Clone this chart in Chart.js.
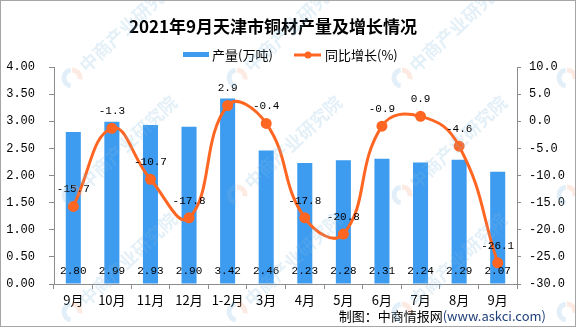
<!DOCTYPE html>
<html>
<head>
<meta charset="utf-8">
<script src="https://cdn.jsdelivr.net/npm/chart.js@4.4.1/dist/chart.umd.min.js"></script>
<style>
  html, body { margin: 0; padding: 0; background: #ffffff; }
  #wrap { width: 576px; height: 327px; position: relative; }
  canvas { display: block; }
</style>
</head>
<body>
<div id="wrap"><canvas id="c" width="576" height="327"></canvas></div>
<script>
// 2021年9月天津市铜材产量及增长情况
const categories = ['9月', '10月', '11月', '12月', '1-2月', '3月', '4月', '5月', '6月', '7月', '8月', '9月'];
const output = [2.80, 2.99, 2.93, 2.90, 3.42, 2.46, 2.23, 2.28, 2.31, 2.24, 2.29, 2.07];   // 产量(万吨)
const growth = [-15.7, -1.3, -10.7, -17.8, 2.9, -0.4, -17.8, -20.8, -0.9, 0.9, -4.6, -26.1]; // 同比增长(%)
const titleText = '2021年9月天津市铜材产量及增长情况';
const outputLabel = '产量(万吨)';
const growthLabel = '同比增长(%)';
const sourceText = '制图：中商情报网';
const sourceUrl = '(www.askci.com)';
const watermarkText = '中商产业研究院';

const BAR_COLOR = '#3D9BF0';
const LINE_COLOR = '#FF6622';
const AXIS_COLOR = '#8C8C8C';
const MONO = '"Liberation Mono", "DejaVu Sans Mono", monospace';
const CJK = '"Noto Sans CJK SC", "Noto Sans", sans-serif';

// Title, legend, value labels, source line, watermark and frame
const decorations = {
  id: 'decorations',
  afterDatasetsDraw(chart) {
    const ctx = chart.ctx;
    const yL = chart.scales.y;
    ctx.save();
    ctx.fillStyle = '#000';
    ctx.textAlign = 'center';
    ctx.textBaseline = 'middle';
    // bar values near the base of each bar
    ctx.font = '11px ' + MONO;
    const barMeta = chart.getDatasetMeta(0);
    barMeta.data.forEach((el, i) => {
      ctx.fillText(output[i].toFixed(2), el.x, yL.getPixelForValue(0) - 13);
    });
    // growth values above each point
    const lineMeta = chart.getDatasetMeta(1);
    lineMeta.data.forEach((el, i) => {
      ctx.fillText(growth[i].toFixed(1), el.x, el.y - 17);
    });
    ctx.restore();
  },
  afterDraw(chart) {
    const ctx = chart.ctx;
    ctx.save();
    // title
    ctx.fillStyle = '#000';
    ctx.textAlign = 'center';
    ctx.textBaseline = 'middle';
    ctx.font = 'bold 17px ' + CJK;
    ctx.fillText(titleText, 273, 27);

    // legend
    ctx.textAlign = 'left';
    ctx.font = '13px ' + CJK;
    ctx.fillStyle = BAR_COLOR;
    ctx.fillRect(183, 52, 26, 5);
    ctx.fillStyle = '#000';
    ctx.fillText(outputLabel, 212, 55);
    ctx.strokeStyle = LINE_COLOR;
    ctx.lineWidth = 3;
    ctx.beginPath();
    ctx.moveTo(294, 55);
    ctx.lineTo(321, 55);
    ctx.stroke();
    ctx.fillStyle = LINE_COLOR;
    ctx.beginPath();
    ctx.arc(308, 55, 3.5, 0, Math.PI * 2);
    ctx.fill();
    ctx.fillStyle = '#000';
    ctx.fillText(growthLabel, 325, 55);

    // source line
    ctx.textAlign = 'right';
    ctx.font = '13px ' + CJK;
    ctx.fillStyle = '#1F3F7A';
    const urlW = ctx.measureText(sourceUrl).width;
    ctx.fillText(sourceUrl, 546, 316);
    ctx.fillStyle = '#000';
    ctx.fillText(sourceText, 546 - urlW, 316);

    // watermark
    const marks = [];
    [72, 237, 402, 567].forEach(x => [78, 195, 312].forEach(y => marks.push([x, y])));
    marks.forEach(([x, y]) => {
      ctx.save();
      ctx.translate(x, y);
      ctx.globalAlpha = 0.22;
      ctx.lineWidth = 5;
      ctx.strokeStyle = '#7FB6E0';
      ctx.beginPath();
      ctx.arc(0, 0, 8, Math.PI * 0.55, Math.PI * 1.45);
      ctx.stroke();
      ctx.strokeStyle = '#F0A080';
      ctx.beginPath();
      ctx.arc(0, 0, 8, Math.PI * 1.5, Math.PI * 0.05);
      ctx.stroke();
      ctx.rotate(-Math.PI * 0.24);
      ctx.fillStyle = '#86B9E0';
      ctx.font = 'bold 18px ' + CJK;
      ctx.textAlign = 'left';
      ctx.textBaseline = 'middle';
      ctx.fillText(watermarkText, 14, 0);
      ctx.restore();
    });

    // frame
    ctx.strokeStyle = '#A6A6A6';
    ctx.lineWidth = 1;
    ctx.strokeRect(0.5, 0.5, 575, 326);
    ctx.restore();
  }
};

new Chart(document.getElementById('c'), {
  data: {
    labels: categories,
    datasets: [
      {
        type: 'bar',
        label: outputLabel,
        data: output,
        yAxisID: 'y',
        backgroundColor: BAR_COLOR,
        barPercentage: 0.39,
        categoryPercentage: 1,
        order: 2
      },
      {
        type: 'line',
        label: growthLabel,
        data: growth,
        yAxisID: 'y1',
        borderColor: LINE_COLOR,
        backgroundColor: LINE_COLOR,
        borderWidth: 3,
        pointRadius: 4,
        pointBackgroundColor: LINE_COLOR,
        pointBorderColor: LINE_COLOR,
        tension: 0.45,
        order: 1
      }
    ]
  },
  options: {
    responsive: false,
    animation: false,
    devicePixelRatio: 1,
    layout: { padding: { top: 67, left: 0, right: 0, bottom: 0 } },
    plugins: {
      legend: { display: false },
      title: { display: false },
      tooltip: { enabled: false }
    },
    scales: {
      x: {
        grid: { drawOnChartArea: false, color: AXIS_COLOR, tickLength: 5, offset: true },
        border: { color: AXIS_COLOR, width: 1 },
        ticks: { color: '#000', font: { family: CJK, size: 13 }, padding: 3, maxRotation: 0, autoSkip: false },
        afterFit(scale) { scale.height = 43; }
      },
      y: {
        position: 'left',
        min: 0,
        max: 4,
        grid: { drawOnChartArea: false, color: AXIS_COLOR, tickLength: 5 },
        border: { color: AXIS_COLOR, width: 1 },
        ticks: {
          stepSize: 0.5,
          color: '#000',
          font: { family: MONO, size: 12 },
          padding: 14,
          callback: v => Number(v).toFixed(2)
        },
        afterFit(scale) { scale.width = 54; }
      },
      y1: {
        position: 'right',
        min: -30,
        max: 10,
        grid: { drawOnChartArea: false, color: AXIS_COLOR, tickLength: 4 },
        border: { color: AXIS_COLOR, width: 1 },
        ticks: {
          stepSize: 5,
          color: '#000',
          font: { family: MONO, size: 12 },
          padding: 8,
          callback: v => Number(v).toFixed(1)
        },
        afterFit(scale) { scale.width = 59; }
      }
    }
  },
  plugins: [decorations]
});
</script>
</body>
</html>
